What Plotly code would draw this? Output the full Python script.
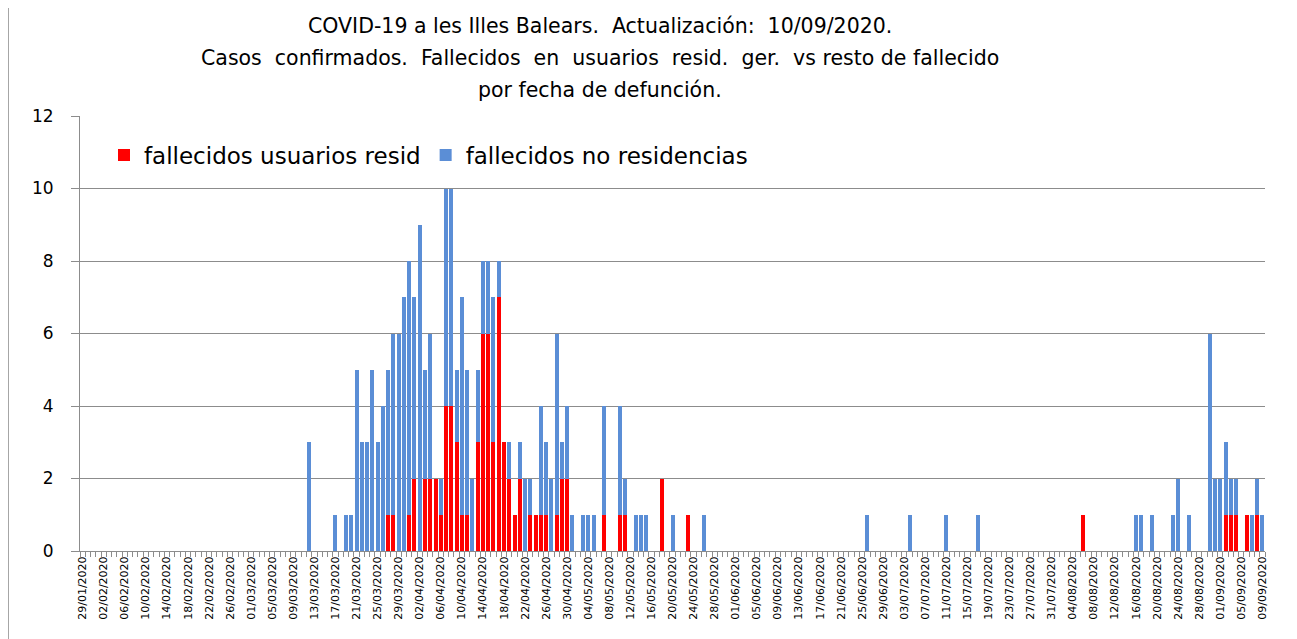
import plotly.graph_objects as go

# ---- data (dates with deaths; all other days are 0) ----
dates = [
    "2020-03-12", "2020-03-17", "2020-03-19", "2020-03-20", "2020-03-21", "2020-03-22",
    "2020-03-23", "2020-03-24", "2020-03-25", "2020-03-26", "2020-03-27", "2020-03-28",
    "2020-03-29", "2020-03-30", "2020-03-31", "2020-04-01", "2020-04-02", "2020-04-03",
    "2020-04-04", "2020-04-05", "2020-04-06", "2020-04-07", "2020-04-08", "2020-04-09",
    "2020-04-10", "2020-04-11", "2020-04-12", "2020-04-13", "2020-04-14", "2020-04-15",
    "2020-04-16", "2020-04-17", "2020-04-18", "2020-04-19", "2020-04-20", "2020-04-21",
    "2020-04-22", "2020-04-23", "2020-04-24", "2020-04-25", "2020-04-26", "2020-04-27",
    "2020-04-28", "2020-04-29", "2020-04-30", "2020-05-01", "2020-05-03", "2020-05-04",
    "2020-05-05", "2020-05-07", "2020-05-10", "2020-05-11", "2020-05-13", "2020-05-14",
    "2020-05-15", "2020-05-18", "2020-05-20", "2020-05-23", "2020-05-26", "2020-06-26",
    "2020-07-04", "2020-07-11", "2020-07-17", "2020-08-06", "2020-08-16", "2020-08-17",
    "2020-08-19", "2020-08-23", "2020-08-24", "2020-08-26", "2020-08-30", "2020-08-31",
    "2020-09-01", "2020-09-02", "2020-09-03", "2020-09-04", "2020-09-06", "2020-09-07",
    "2020-09-08", "2020-09-09",
]
resid = [
    0, 0, 0, 0, 0, 0,
    0, 0, 0, 0, 1, 1,
    0, 0, 1, 2, 0, 2,
    2, 2, 1, 4, 4, 3,
    1, 1, 0, 3, 6, 6,
    3, 7, 3, 2, 1, 2,
    0, 1, 1, 1, 1, 0,
    1, 2, 2, 0, 0, 0,
    0, 1, 1, 1, 0, 0,
    0, 2, 0, 1, 0, 0,
    0, 0, 0, 1, 0, 0,
    0, 0, 0, 0, 0, 0,
    0, 1, 1, 1, 1, 0,
    1, 0,
]
no_resid = [
    3, 1, 1, 1, 5, 3,
    3, 5, 3, 4, 4, 5,
    6, 7, 7, 5, 9, 3,
    4, 0, 1, 6, 6, 2,
    6, 4, 2, 2, 2, 2,
    4, 1, 0, 1, 0, 1,
    2, 1, 0, 3, 2, 2,
    5, 1, 2, 1, 1, 1,
    1, 3, 3, 1, 1, 1,
    1, 0, 1, 0, 1, 1,
    1, 1, 1, 0, 1, 1,
    1, 1, 2, 1, 6, 2,
    2, 2, 1, 1, 0, 1,
    1, 1,
]
series_names = ["fallecidos usuarios resid", "fallecidos no residencias"]
title_lines = [
    "COVID-19 a les Illes Balears.  Actualización:  10/09/2020.",
    "Casos  confirmados.  Fallecidos  en  usuarios  resid.  ger.  vs resto de fallecido",
    "por fecha de defunción.",
]
x_start = "2020-01-29"
x_end = "2020-09-09"

DAY = 86400000
FONT = "DejaVu Sans"
RED = "#FF0000"
BLUE = "#5B8ED6"
GRID = "#8C8C8C"

# figure geometry (page body has an 8px margin)
W, H = 1289, 631
L, R, T, B = 72, 32, 108, 88
PW, PH = W - L - R, H - T - B


def px_x(x):
    return (x - L) / PW


def px_y(y):
    return (H - B - y) / PH


fig = go.Figure()
fig.add_trace(go.Bar(x=dates, y=resid, name=series_names[0], marker_color=RED,
                     marker_line_width=0, width=0.76 * DAY))
fig.add_trace(go.Bar(x=dates, y=no_resid, name=series_names[1], marker_color=BLUE,
                     marker_line_width=0, width=0.76 * DAY))

fig.update_layout(
    width=W, height=H,
    barmode="stack",
    paper_bgcolor="white", plot_bgcolor="white",
    margin=dict(l=L, r=R, t=T, b=B, autoexpand=False),
    font=dict(family=FONT, color="black"),
    showlegend=True,
    legend=dict(orientation="h", x=px_x(96), y=px_y(147), xanchor="left", yanchor="middle",
                font=dict(size=23, family=FONT), itemwidth=30,
                bgcolor="rgba(0,0,0,0)", traceorder="normal"),
)

fig.update_xaxes(
    type="date",
    range=["2020-01-28 12:00", x_end + " 12:00"],
    tick0=x_start, dtick=4 * DAY, tickformat="%d/%m/%Y",
    tickangle=-90, tickfont=dict(size=11, family=FONT),
    ticks="", showgrid=False,
    showline=True, linecolor=GRID, linewidth=1,
    minor=dict(ticks="outside", tick0=x_start + " 12:00", dtick=DAY,
               ticklen=5, tickcolor=GRID, showgrid=False),
)

fig.update_yaxes(
    range=[0, 12], dtick=2, tick0=0,
    showgrid=True, gridcolor=GRID, gridwidth=1,
    showline=True, linecolor=GRID, linewidth=1,
    ticks="outside", ticklen=8, tickcolor=GRID,
    tickfont=dict(size=17, family=FONT),
    ticklabelstandoff=14,
    zeroline=False,
)

# title (three lines, centred)
for line, ypx in zip(title_lines, [18, 50, 82]):
    fig.add_annotation(text=line, xref="paper", yref="paper",
                       x=px_x(592), y=px_y(ypx),
                       xanchor="center", yanchor="middle", showarrow=False,
                       font=dict(size=20.5, family=FONT, color="black"))

# outer chart frame (left and right edges)
for xf in (0.5, 1282):
    fig.add_shape(type="line", xref="paper", yref="paper",
                  x0=px_x(xf), x1=px_x(xf), y0=px_y(H + 5), y1=px_y(-5),
                  line=dict(color="#A6A6A6", width=1), layer="below")

fig.write_html("out.html")
